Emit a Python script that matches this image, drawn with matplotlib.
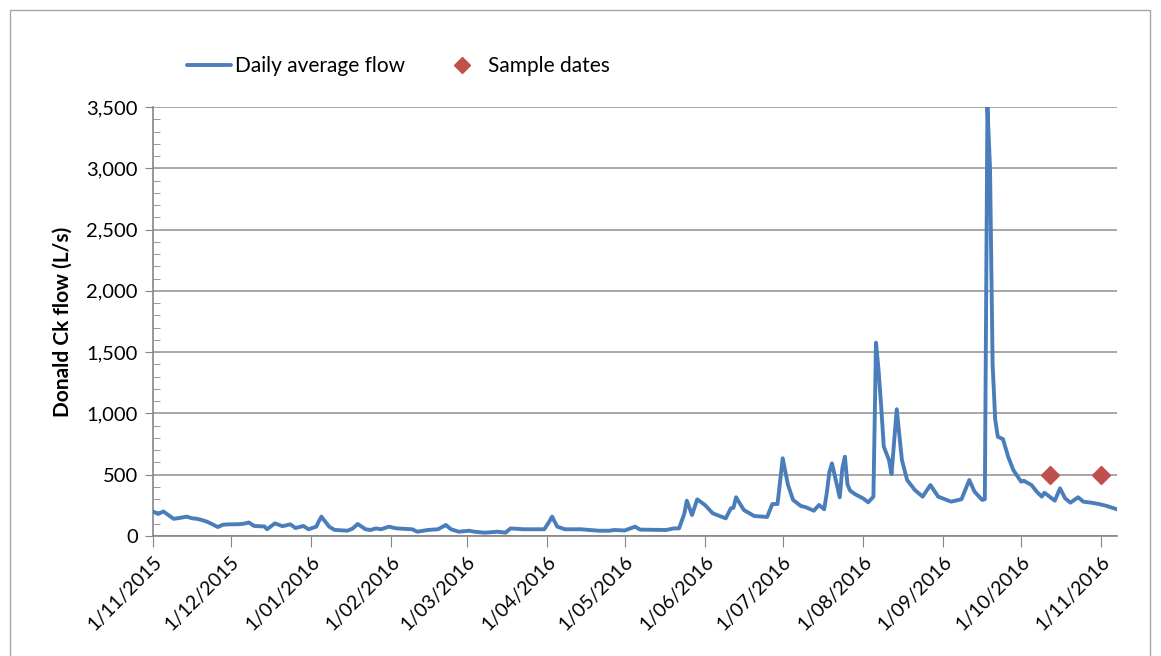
import matplotlib
matplotlib.use("Agg")
import matplotlib.pyplot as plt
from matplotlib.ticker import MultipleLocator, FuncFormatter
from matplotlib.patches import Rectangle
import pandas as pd

flow_dates = [
    "2015-11-01", "2015-11-03", "2015-11-05", "2015-11-07", "2015-11-09", "2015-11-12",
    "2015-11-14", "2015-11-16", "2015-11-18", "2015-11-20", "2015-11-22", "2015-11-24",
    "2015-11-26", "2015-11-28", "2015-11-30", "2015-12-04", "2015-12-06", "2015-12-08",
    "2015-12-10", "2015-12-14", "2015-12-15", "2015-12-18", "2015-12-21", "2015-12-24",
    "2015-12-26", "2015-12-29", "2015-12-31", "2016-01-03", "2016-01-04", "2016-01-05",
    "2016-01-06", "2016-01-08", "2016-01-10", "2016-01-15", "2016-01-17", "2016-01-19",
    "2016-01-22", "2016-01-24", "2016-01-26", "2016-01-28", "2016-01-31", "2016-02-03",
    "2016-02-09", "2016-02-11", "2016-02-15", "2016-02-19", "2016-02-22", "2016-02-24",
    "2016-02-27", "2016-03-02", "2016-03-04", "2016-03-08", "2016-03-13", "2016-03-16",
    "2016-03-18", "2016-03-23", "2016-03-31", "2016-04-02", "2016-04-03", "2016-04-05",
    "2016-04-08", "2016-04-14", "2016-04-21", "2016-04-25", "2016-04-27", "2016-05-01",
    "2016-05-05", "2016-05-07", "2016-05-17", "2016-05-20", "2016-05-22", "2016-05-24",
    "2016-05-25", "2016-05-27", "2016-05-29", "2016-06-01", "2016-06-04", "2016-06-09",
    "2016-06-11", "2016-06-12", "2016-06-13", "2016-06-16", "2016-06-20", "2016-06-25",
    "2016-06-27", "2016-06-29", "2016-07-01", "2016-07-03", "2016-07-05", "2016-07-08",
    "2016-07-10", "2016-07-13", "2016-07-15", "2016-07-17", "2016-07-18", "2016-07-19",
    "2016-07-20", "2016-07-21", "2016-07-23", "2016-07-24", "2016-07-25", "2016-07-26",
    "2016-07-27", "2016-07-29", "2016-08-01", "2016-08-03", "2016-08-05", "2016-08-06",
    "2016-08-07", "2016-08-08", "2016-08-09", "2016-08-11", "2016-08-12", "2016-08-14",
    "2016-08-16", "2016-08-18", "2016-08-21", "2016-08-24", "2016-08-27", "2016-08-30",
    "2016-09-04", "2016-09-08", "2016-09-11", "2016-09-13", "2016-09-16", "2016-09-17",
    "2016-09-18", "2016-09-19", "2016-09-20", "2016-09-21", "2016-09-22", "2016-09-24",
    "2016-09-26", "2016-09-28", "2016-10-01", "2016-10-02", "2016-10-05", "2016-10-07",
    "2016-10-09", "2016-10-10", "2016-10-12", "2016-10-14", "2016-10-16", "2016-10-18",
    "2016-10-20", "2016-10-23", "2016-10-25", "2016-10-28", "2016-10-31", "2016-11-03",
    "2016-11-07",
]
flow_values = [
    200, 180, 200, 170, 140, 150,
    158, 145, 140, 130, 115, 95,
    73, 92, 95, 96, 100, 110,
    82, 78, 55, 103, 80, 95,
    65, 82, 55, 76, 120, 158,
    130, 76, 50, 43, 60, 98,
    55, 49, 62, 55, 76, 62,
    55, 35, 49, 55, 90, 55,
    35, 43, 35, 27, 35, 27,
    62, 55, 55, 120, 158, 76,
    55, 55, 43, 43, 49, 45,
    76, 52, 49, 62, 62, 180,
    288, 171, 299, 253, 185, 144,
    226, 230, 316, 212, 163, 155,
    261, 261, 634, 420, 294, 245,
    234, 206, 253, 218, 350, 520,
    593, 500, 316, 550, 647, 420,
    370, 340, 307, 275, 321, 1577,
    1350, 1055, 729, 620, 506, 1034,
    620, 457, 375, 321, 416, 321,
    280, 300, 457, 362, 294, 300,
    3500, 3000, 1400, 950, 810, 790,
    647, 538, 443, 451, 416, 362,
    321, 353, 321, 288, 389, 307,
    272, 316, 280, 272, 261, 245,
    218,
]
sample_dates = ["2016-10-12", "2016-11-01"]
sample_values = [500, 500]

month_ticks = pd.date_range("2015-11-01", "2016-11-01", freq="MS")

plt.rcParams["font.family"] = ["Lato", "DejaVu Sans"]

fig = plt.figure(figsize=(11.61, 6.56), dpi=100)
fig.patches.append(Rectangle((10 / 1161, -0.1), 1140 / 1161, 1.1 - 10 / 656,
                             transform=fig.transFigure, fill=False,
                             edgecolor="#a6a6a6", linewidth=1.0))
ax = fig.add_axes([153 / 1161, 120 / 656, (1117 - 153) / 1161, (536 - 107) / 656])

x = pd.to_datetime(flow_dates)
ax.plot(x, flow_values, color="#4a7ebb", linewidth=2.8, label="Daily average flow",
        solid_joinstyle="round", solid_capstyle="round", zorder=3)
ax.plot(pd.to_datetime(sample_dates), sample_values, linestyle="none", marker="D",
        markersize=9, color="#c0504d", label="Sample dates", zorder=4)

ax.set_xlim(pd.Timestamp("2015-11-01"), pd.Timestamp("2016-11-07"))
ax.set_ylim(0, 3500)
ax.yaxis.set_major_locator(MultipleLocator(500))
ax.yaxis.set_minor_locator(MultipleLocator(100))
ax.yaxis.set_major_formatter(FuncFormatter(lambda v, p: f"{int(v):,}"))
ax.set_xticks(month_ticks)
ax.set_xticklabels([f"{d.day}/{d.month:02d}/{d.year}" for d in month_ticks],
                   rotation=45, ha="right", rotation_mode="anchor", fontsize=14)
ax.tick_params(axis="y", which="major", direction="out", length=6, color="#868686",
               labelsize=14.5, pad=5)
ax.tick_params(axis="y", which="minor", direction="in", length=5, color="#868686")
ax.tick_params(axis="x", which="major", direction="out", length=8, color="#868686", pad=4)
ax.tick_params(axis="x", which="minor", length=0)

ax.grid(axis="y", which="major", color="#a0a0a0", linewidth=1.3)
ax.set_axisbelow(True)
for s in ["top", "right"]:
    ax.spines[s].set_visible(False)
for s in ["left", "bottom"]:
    ax.spines[s].set_color("#868686")
    ax.spines[s].set_linewidth(1.2)

ax.set_ylabel("Donald Ck flow (L/s)", fontsize=15, fontweight="bold", labelpad=10)

fig.legend(loc="center left", bbox_to_anchor=(187 / 1161, 1 - 66 / 656), ncol=2,
           frameon=False, fontsize=15, handlelength=2.1, handletextpad=0.2,
           columnspacing=1.7, markerscale=0.85, borderpad=0, borderaxespad=0)

fig.savefig("out.png", dpi=100)
